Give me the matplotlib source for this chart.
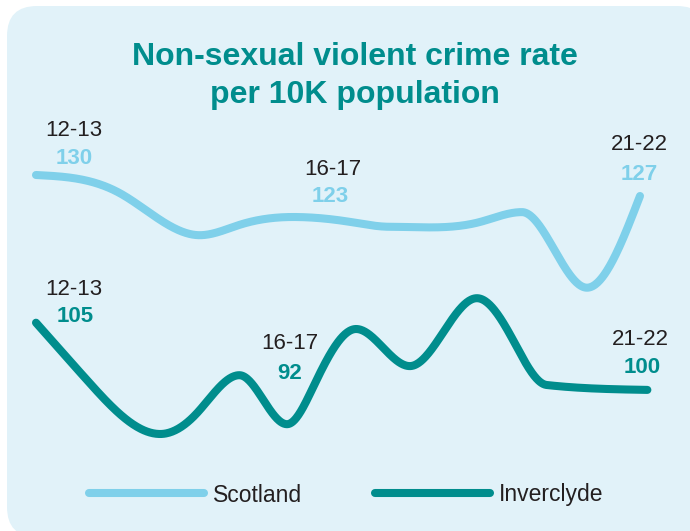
import matplotlib

matplotlib.use("Agg")
import matplotlib.pyplot as plt  # noqa: E402
import matplotlib.patches as mpatches  # noqa: E402
from matplotlib.lines import Line2D  # noqa: E402
from matplotlib.transforms import IdentityTransform  # noqa: E402
import numpy as np

# season index 0 = 12-13 ... 9 = 21-22; curve anchor points
scot_x = [0.0, 1.25, 2.44, 3.04, 3.83, 4.68, 5.28, 6.62, 7.24, 8.21, 9.0]
scot_y = [130.0, 127.4, 121.4, 122.9, 124.0, 123.3, 122.6, 123.3, 124.7, 113.9, 127.0]

inv_x = [0.0, 0.76, 1.85, 2.40, 3.03, 3.74, 4.13, 4.77, 5.57, 6.57, 7.11, 7.61, 9.11]
inv_y = [108.9, 100.7, 93.0, 96.0, 101.4, 94.4, 99.7, 108.0, 102.7, 112.4, 106.4, 100.0, 99.3]

label_seasons = ["12-13", "16-17", "21-22"]
label_idx = [0, 4, 9]
scot_values = [130, 123, 127]
inv_values = [105, 92, 100]

BG = "#e1f2f9"
SCOT = "#7fd0ea"
INV = "#008d8d"
TXT = "#231f20"
FONT = "Liberation Sans"


def smooth(x, y, xs):
    """Hermite curve: flat at turning points, curvature-continuous elsewhere."""
    x = np.asarray(x, float)
    y = np.asarray(y, float)
    n = len(x)
    h = np.diff(x)
    d = np.diff(y) / h
    A = np.zeros((n, n))
    b = np.zeros(n)
    # natural ends
    A[0, 0], A[0, 1], b[0] = 2, 1, 3 * d[0]
    A[-1, -2], A[-1, -1], b[-1] = 1, 2, 3 * d[-1]
    for k in range(1, n - 1):
        a0, a1 = abs(d[k - 1]), abs(d[k])
        if d[k - 1] * d[k] <= 0:
            A[k, k] = 1  # turning point, flat
        elif min(a0, a1) / max(a0, a1) < 0.2:
            w1 = 2 * h[k] + h[k - 1]
            w2 = h[k] + 2 * h[k - 1]
            A[k, k] = 1
            b[k] = (w1 + w2) / (w1 / d[k - 1] + w2 / d[k])
        else:
            A[k, k - 1] = 1 / h[k - 1]
            A[k, k] = 2 * (1 / h[k - 1] + 1 / h[k])
            A[k, k + 1] = 1 / h[k]
            b[k] = 3 * (d[k - 1] / h[k - 1] + d[k] / h[k])
    m = np.linalg.solve(A, b)
    k = np.clip(np.searchsorted(x, xs) - 1, 0, n - 2)
    t = (xs - x[k]) / h[k]
    h00 = 2 * t**3 - 3 * t**2 + 1
    h10 = t**3 - 2 * t**2 + t
    h01 = -2 * t**3 + 3 * t**2
    h11 = t**3 - t**2
    return h00 * y[k] + h10 * h[k] * m[k] + h01 * y[k + 1] + h11 * h[k] * m[k + 1]


fig = plt.figure(figsize=(6.9, 5.31), dpi=100)
fig.patch.set_facecolor("white")

bg = mpatches.FancyBboxPatch(
    (7, -6), 700, 531, boxstyle="round,pad=0,rounding_size=30",
    transform=IdentityTransform(), facecolor=BG, edgecolor="none", zorder=0,
)
fig.add_artist(bg)

ax = fig.add_axes([0, 0, 1, 1])
ax.set_facecolor("none")
ax.set_xlim(-36 / 67.11, (690 - 36) / 67.11)
ax.set_ylim(130 - 356 / 7, 155)
ax.axis("off")

sx = np.linspace(scot_x[0], scot_x[-1], 800)
sy = smooth(scot_x, scot_y, sx)
ix = np.linspace(inv_x[0], inv_x[-1], 800)
iy = smooth(inv_x, inv_y, ix)

ax.plot(sx, sy, color=SCOT, lw=5.8, solid_capstyle="round", zorder=3)
ax.plot(ix, iy, color=INV, lw=5.8, solid_capstyle="round", zorder=3)

# label offsets in pixels (year label, value label), relative to the curve
scot_off = [((38, 45), (38, 17)), ((28, 48), (26, 21)), ((-1, 51), (-1, 21))]
inv_off = [((38, 33), (39, 6)), ((-15, 61), (-15, 31)), ((0, 50), (2, 22))]

for series_x, series_y, values, offs, col in [
    (sx, sy, scot_values, scot_off, SCOT),
    (ix, iy, inv_values, inv_off, INV),
]:
    for season, idx, val, (yo, vo) in zip(label_seasons, label_idx, values, offs):
        yv = np.interp(idx, series_x, series_y)
        ax.annotate(season, (idx, yv), xytext=yo, textcoords="offset pixels",
                    ha="center", va="center", fontsize=16, color=TXT, family=FONT)
        ax.annotate(str(val), (idx, yv), xytext=vo, textcoords="offset pixels",
                    ha="center", va="center", fontsize=16, color=col,
                    fontweight="bold", family=FONT)

fig.text(355 / 690, 1 - 65 / 531, "Non-sexual violent crime rate", ha="center",
         va="baseline", fontsize=23, fontweight="bold", color=INV, family=FONT)
fig.text(355 / 690, 1 - 103 / 531, "per 10K population", ha="center",
         va="baseline", fontsize=23, fontweight="bold", color=INV, family=FONT)

handles = [
    Line2D([], [], color=SCOT, lw=5.8, solid_capstyle="round"),
    Line2D([], [], color=INV, lw=5.8, solid_capstyle="round"),
]
leg = fig.legend(handles, ["Scotland", "Inverclyde"], loc="center",
                 bbox_to_anchor=(346.5 / 690, 1 - 495 / 531), ncol=2, frameon=False,
                 handlelength=5.0, handletextpad=0.4, columnspacing=3.2,
                 prop={"family": FONT, "size": 16.5})
for t in leg.get_texts():
    t.set_color(TXT)

fig.savefig("out.png", dpi=100)
